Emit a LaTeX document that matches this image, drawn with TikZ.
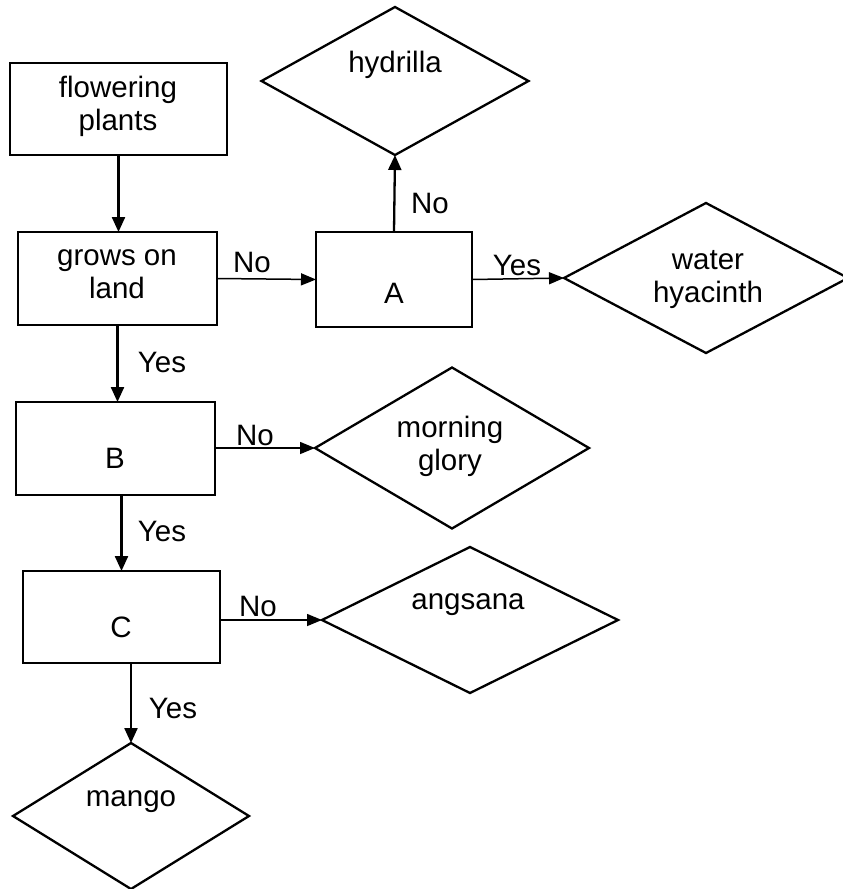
\documentclass[tikz,border=0pt]{standalone}
\usepackage{fontspec}
\setmainfont{Liberation Sans}
\usetikzlibrary{shapes.geometric,arrows.meta}
\begin{document}
\begin{tikzpicture}[x=1pt,y=-1pt,
  box/.style={draw,line width=2.3pt,rectangle,inner sep=0pt,outer sep=0pt},
  dia/.style={draw,line width=2.3pt,diamond,inner sep=0pt,outer sep=0pt},
  txt/.style={font=\fontsize{29.5}{33}\selectfont,align=center,inner sep=0pt},
  lbl/.style={font=\fontsize{29.5}{33}\selectfont,inner sep=0pt},
  vconn/.style={line width=2.3pt,-{Triangle[length=15pt,width=13pt]}},
  hconn/.style={line width=1.5pt,-{Triangle[length=15pt,width=12pt]}}]
\useasboundingbox (0,0) rectangle (843,889);
\fill[white] (0,0) rectangle (843,889);
% boxes
\node[box,minimum width=217pt,minimum height=92pt] (fp) at (118.5,109) {};
\node[box,minimum width=199pt,minimum height=93pt] (gl) at (117.5,278.5) {};
\node[box,minimum width=156pt,minimum height=95pt] (A) at (394,279.5) {};
\node[box,minimum width=199pt,minimum height=93pt] (B) at (115.5,448.5) {};
\node[box,minimum width=197pt,minimum height=92pt] (C) at (121.5,617) {};
% diamonds
\node[dia,minimum width=267pt,minimum height=148pt] (hyd) at (395,81) {};
\node[dia,minimum width=284pt,minimum height=150pt] (wh) at (706,278) {};
\node[dia,minimum width=274pt,minimum height=161pt] (mg) at (452,448) {};
\node[dia,minimum width=296pt,minimum height=146pt] (ang) at (470,620) {};
\node[dia,minimum width=236pt,minimum height=146pt] (man) at (131,816) {};
% texts
\node[txt] (tfp) at (118,106) {flowering\\plants};
\node[txt] (tgl) at (117,274) {grows on\\land};
\node[txt] (tA) at (394,293) {A};
\node[txt] (tB) at (115,458) {B};
\node[txt] (tC) at (121,627) {C};
\node[txt] (thyd) at (395,65) {hydrilla};
\node[txt] (twh) at (708,280) {water\\hyacinth};
\node[txt] (tmg) at (450,446) {morning\\glory};
\node[txt] (tang) at (468,605) {angsana};
\node[txt] (tman) at (131,802) {mango};
% connectors
\draw[vconn] (fp.south) -- (fp.south |- gl.north);
\draw[hconn] (gl.east) -- (A.west);
\draw[vconn] (A.north) -- (hyd.south);
\draw[hconn] (A.east) -- (wh.west);
\draw[vconn] (gl.south) -- (gl.south |- B.north);
\draw[hconn] (B.east |- mg.west) -- (mg.west);
\draw[vconn] (C.north |- B.south) -- (C.north);
\draw[hconn] (C.east |- ang.west) -- (ang.west);
\draw[vconn] (man.north |- C.south) -- (man.north);
% labels
\node[lbl] (l1) at (252,262) {No};
\node[lbl] (l2) at (430,203) {No};
\node[lbl] (l3) at (517,265) {Yes};
\node[lbl] (l4) at (162,362) {Yes};
\node[lbl] (l5) at (255,435) {No};
\node[lbl] (l6) at (162,531) {Yes};
\node[lbl] (l7) at (258,606) {No};
\node[lbl] (l8) at (173,708) {Yes};
\end{tikzpicture}
\end{document}
